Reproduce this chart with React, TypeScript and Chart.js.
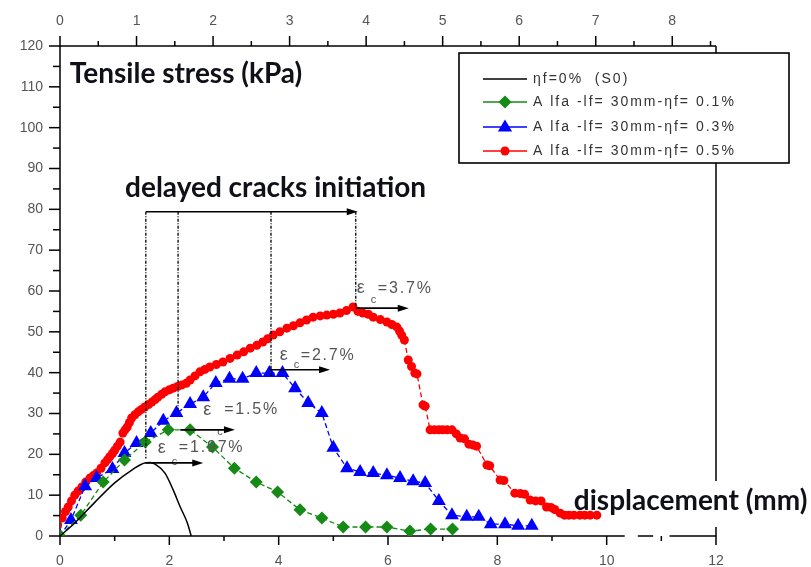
import React, { useEffect, useRef } from 'react';
import { Chart, registerables } from 'chart.js';

Chart.register(...registerables);

// ---- data (displacement mm, tensile stress kPa) ----
const s0X = [0, 0.27, 0.64, 1.0, 1.32, 1.55, 1.65, 1.74, 1.92, 2.07, 2.2, 2.33, 2.4];
const s0Y = [0, 3.2, 8.3, 13.0, 16.2, 17.9, 18.0, 17.6, 15.4, 11.3, 7.1, 3.2, 0];

const g01X = [0, 0.38, 0.79, 1.18, 1.56, 1.98, 2.38, 2.79, 3.19, 3.59, 3.98, 4.39, 4.79, 5.18, 5.59, 5.98, 6.4, 6.78, 7.18];
const g01Y = [0, 5.1, 13.2, 18.6, 23.0, 26.0, 26.0, 21.8, 16.6, 13.2, 10.8, 6.4, 4.4, 2.2, 2.2, 2.2, 1.2, 1.7, 1.7];

const b03X = [0, 0.2, 0.46, 0.67, 0.96, 1.18, 1.4, 1.66, 1.89, 2.13, 2.38, 2.62, 2.85, 3.1, 3.34, 3.59, 3.83, 4.07, 4.3, 4.54, 4.79, 5.0, 5.25, 5.49, 5.73, 5.98, 6.22, 6.46, 6.68, 6.93, 7.17, 7.44, 7.66, 7.88, 8.14, 8.38, 8.63];
const b03Y = [0, 3.9, 12.2, 14.2, 16.4, 20.3, 22.8, 25.2, 28.2, 30.1, 32.3, 34.0, 37.5, 38.5, 38.5, 39.9, 39.9, 39.9, 36.2, 32.6, 30.1, 21.6, 16.6, 15.7, 15.4, 14.9, 14.2, 13.4, 13.0, 8.6, 5.1, 4.7, 4.7, 2.9, 2.9, 2.5, 2.5];

const r05X = [0, 0.04, 0.1, 0.15, 0.21, 0.27, 0.33, 0.4, 0.47, 0.55, 0.61, 0.67, 0.75, 0.82, 0.87, 0.91, 0.96, 1.0, 1.05, 1.1, 1.15, 1.19, 1.23, 1.27, 1.31, 1.37, 1.43, 1.49, 1.55, 1.62, 1.68, 1.74, 1.79, 1.86, 1.92, 2.0, 2.07, 2.15, 2.23, 2.31, 2.38, 2.47, 2.56, 2.65, 2.74, 2.86, 2.98, 3.11, 3.24, 3.36, 3.48, 3.6, 3.71, 3.8, 3.9, 4.02, 4.15, 4.27, 4.39, 4.51, 4.63, 4.76, 4.88, 5.0, 5.12, 5.24, 5.36, 5.45, 5.54, 5.64, 5.73, 5.86, 5.98, 6.07, 6.16, 6.21, 6.25, 6.3, 6.37, 6.43, 6.49, 6.53, 6.64, 6.68, 6.77, 6.85, 6.93, 7.0, 7.08, 7.17, 7.25, 7.32, 7.4, 7.48, 7.55, 7.62, 7.81, 7.86, 8.05, 8.12, 8.32, 8.42, 8.5, 8.6, 8.7, 8.8, 8.9, 8.98, 9.05, 9.15, 9.23, 9.31, 9.4, 9.51, 9.6, 9.7, 9.82];
const r05Y = [0, 4.4, 6.0, 7.1, 8.6, 10.0, 11.0, 12.0, 13.2, 14.2, 14.8, 15.4, 16.6, 17.9, 18.7, 19.4, 20.2, 21.0, 22.0, 23.0, 25.2, 26.0, 26.7, 27.8, 28.9, 29.7, 30.4, 31.0, 31.6, 32.2, 32.8, 33.4, 34.0, 34.7, 35.3, 35.8, 36.2, 36.6, 37.0, 37.4, 38.2, 39.2, 40.2, 40.8, 41.4, 42.0, 42.6, 43.5, 44.3, 45.1, 46.0, 46.7, 47.5, 48.3, 49.2, 50.0, 50.9, 51.5, 52.2, 52.9, 53.6, 53.9, 54.1, 54.3, 54.6, 55.2, 56.1, 55.0, 54.6, 54.3, 53.6, 53.0, 52.4, 51.8, 51.2, 50.2, 49.2, 48.0, 43.1, 41.5, 39.9, 39.7, 32.1, 31.8, 26.0, 26.0, 26.0, 26.0, 26.0, 26.0, 25.0, 24.0, 23.8, 22.5, 22.3, 22.0, 17.4, 17.2, 13.7, 13.6, 10.5, 10.4, 10.2, 8.8, 8.6, 8.6, 7.1, 7.0, 6.5, 5.6, 5.1, 5.1, 5.1, 5.1, 5.1, 5.1, 5.1];

const bottomTicks = [0, 2, 4, 6, 8, 10, 12];
const topTicks = [0, 1, 2, 3, 4, 5, 6, 7, 8];
const yTicks = [0, 10, 20, 30, 40, 50, 60, 70, 80, 90, 100, 110, 120];

const seriesLabels = ['ηf=0%  (S0)', 'A lfa -lf= 30mm-ηf= 0.1%', 'A lfa -lf= 30mm-ηf= 0.3%', 'A lfa -lf= 30mm-ηf= 0.5%'];
const seriesColors = ['#000000', '#158a15', '#0000ff', '#ff0000'];
const seriesPoints = ['none', 'rectRot', 'triangle', 'circle'];

// strain annotations
const strainLabels = ['=3.7%', '=2.7%', '=1.5%', '=1.97%'];
const strainTextX = [5.43, 4.02, 2.62, 1.79];
const strainTextY = [60.7, 44.3, 30.9, 21.6];
const strainArrowX0 = [5.41, 3.84, 2.2, 1.57];
const strainArrowX1 = [6.38, 4.94, 3.2, 2.62];
const strainArrowY = [55.8, 40.7, 26.0, 17.9];
const strainSubDrop = [12, 10, 22, 14];

const crackX = [1.57, 2.16, 3.86, 5.41];
const crackBottomY = [19.0, 30.9, 38.9, 56.3];
const crackTopY = 79.4;

const toPts = (xs: number[], ys: number[]) => xs.map((x, i) => ({ x, y: ys[i] }));

function arrow(ctx: CanvasRenderingContext2D, x0: number, y: number, x1: number) {
  ctx.save();
  ctx.strokeStyle = '#000';
  ctx.fillStyle = '#000';
  ctx.lineWidth = 1.6;
  ctx.setLineDash([]);
  ctx.beginPath();
  ctx.moveTo(x0, y);
  ctx.lineTo(x1 - 6, y);
  ctx.stroke();
  ctx.beginPath();
  ctx.moveTo(x1, y);
  ctx.lineTo(x1 - 11, y - 3.5);
  ctx.lineTo(x1 - 11, y + 3.5);
  ctx.closePath();
  ctx.fill();
  ctx.restore();
}

function marker(ctx: CanvasRenderingContext2D, style: string, x: number, y: number, color: string) {
  ctx.save();
  ctx.fillStyle = color;
  ctx.beginPath();
  if (style === 'rectRot') {
    const r = 6.5;
    ctx.moveTo(x, y - r);
    ctx.lineTo(x + r, y);
    ctx.lineTo(x, y + r);
    ctx.lineTo(x - r, y);
    ctx.closePath();
  } else if (style === 'triangle') {
    const r = 7.5;
    ctx.moveTo(x, y - r);
    ctx.lineTo(x + r * 0.95, y + r * 0.6);
    ctx.lineTo(x - r * 0.95, y + r * 0.6);
    ctx.closePath();
  } else if (style === 'circle') {
    ctx.arc(x, y, 4.5, 0, Math.PI * 2);
  }
  ctx.fill();
  ctx.restore();
}

const framePlugin = {
  id: 'frame',
  beforeDatasetsDraw(chart: any) {
    const ctx: CanvasRenderingContext2D = chart.ctx;
    const { left, right, top, bottom } = chart.chartArea;
    const xs = chart.scales.x;
    const xt = chart.scales.xTop;
    const ys = chart.scales.y;
    ctx.save();
    ctx.strokeStyle = '#000';
    ctx.lineWidth = 1.5;
    ctx.setLineDash([]);
    // left axis
    ctx.beginPath();
    ctx.moveTo(left, top);
    ctx.lineTo(left, bottom);
    ctx.stroke();
    for (let v = 0; v <= 120; v += 5) {
      const py = ys.getPixelForValue(v);
      const len = v % 10 === 0 ? 11 : 7;
      ctx.beginPath();
      ctx.moveTo(left - len, py);
      ctx.lineTo(left, py);
      ctx.stroke();
    }
    // top axis
    ctx.beginPath();
    ctx.moveTo(left, top);
    ctx.lineTo(right, top);
    ctx.stroke();
    for (let v = 0; v <= 8.5; v += 0.5) {
      const px = xt.getPixelForValue(v);
      const len = Number.isInteger(v) ? 10 : 5;
      ctx.beginPath();
      ctx.moveTo(px, top - len);
      ctx.lineTo(px, top);
      ctx.stroke();
    }
    // bottom axis (broken near the end)
    const bx = (v: number) => xs.getPixelForValue(v);
    ctx.beginPath();
    ctx.moveTo(left, bottom);
    ctx.lineTo(bx(10.33), bottom);
    ctx.moveTo(bx(10.57), bottom);
    ctx.lineTo(bx(10.85), bottom);
    ctx.moveTo(bx(11.15), bottom);
    ctx.lineTo(right, bottom);
    ctx.stroke();
    for (let v = 0; v <= 12; v += 1) {
      const px = bx(v);
      const len = v % 2 === 0 ? 9 : 5;
      ctx.beginPath();
      ctx.moveTo(px, bottom);
      ctx.lineTo(px, bottom + len);
      ctx.stroke();
    }
    // right border, interrupted by legend and axis title
    ctx.beginPath();
    ctx.moveTo(right, top);
    ctx.lineTo(right, ys.getPixelForValue(13.5));
    ctx.moveTo(right, ys.getPixelForValue(2.2));
    ctx.lineTo(right, bottom);
    ctx.stroke();
    ctx.restore();
  },
  afterDatasetsDraw(chart: any) {
    const ctx: CanvasRenderingContext2D = chart.ctx;
    const { right, top } = chart.chartArea;
    const xs = chart.scales.x;
    const ys = chart.scales.y;
    const X = (v: number) => xs.getPixelForValue(v);
    const Y = (v: number) => ys.getPixelForValue(v);
    ctx.save();

    // crack initiation dotted lines
    ctx.strokeStyle = '#000';
    ctx.lineWidth = 1.3;
    ctx.setLineDash([3, 1.5, 1, 1.5]);
    crackX.forEach((cx, i) => {
      ctx.beginPath();
      ctx.moveTo(X(cx), Y(crackTopY));
      ctx.lineTo(X(cx), Y(crackBottomY[i]));
      ctx.stroke();
    });
    ctx.setLineDash([]);
    arrow(ctx, X(crackX[0]), Y(crackTopY), X(crackX[3]) + 2);

    // strain labels
    strainLabels.forEach((t, i) => {
      const px = X(strainTextX[i]);
      const py = Y(strainTextY[i]);
      ctx.fillStyle = '#555';
      ctx.textBaseline = 'middle';
      ctx.textAlign = 'left';
      ctx.font = '18px "Liberation Sans", Arial, sans-serif';
      (ctx as any).letterSpacing = '0px';
      ctx.fillText('ε', px, py);
      ctx.font = '11px "Liberation Sans", Arial, sans-serif';
      ctx.fillText('c', px + 14, py + strainSubDrop[i]);
      ctx.font = '16px "Liberation Sans", Arial, sans-serif';
      (ctx as any).letterSpacing = '1.8px';
      ctx.fillText(t, px + 21, py);
      (ctx as any).letterSpacing = '0px';
      arrow(ctx, X(strainArrowX0[i]), Y(strainArrowY[i]), X(strainArrowX1[i]));
    });

    // big titles
    ctx.fillStyle = '#101018';
    ctx.textBaseline = 'alphabetic';
    ctx.font = 'bold 28px Lato, "Open Sans", sans-serif';
    ctx.fillText('Tensile stress (kPa)', X(0.18), Y(110.9));
    ctx.fillText('delayed cracks initiation', X(1.19), Y(83.0));
    ctx.fillText('displacement (mm)', X(9.4), Y(6.4));

    // legend
    const bxL = right - 257;
    const bxT = top + 7;
    const bw = 330;
    const bh = 110;
    ctx.fillStyle = '#fff';
    ctx.fillRect(bxL, bxT, bw, bh);
    ctx.strokeStyle = '#000';
    ctx.lineWidth = 1.6;
    ctx.strokeRect(bxL, bxT, bw, bh);
    const rowY = [26, 49, 74, 98];
    seriesLabels.forEach((lab, i) => {
      const yy = bxT + rowY[i];
      ctx.strokeStyle = seriesColors[i];
      ctx.lineWidth = 1.5;
      ctx.beginPath();
      ctx.moveTo(bxL + 24, yy);
      ctx.lineTo(bxL + 68, yy);
      ctx.stroke();
      marker(ctx, seriesPoints[i], bxL + 46, yy, seriesColors[i]);
      ctx.fillStyle = '#333';
      ctx.font = '14px "Liberation Sans", Arial, sans-serif';
      (ctx as any).letterSpacing = '2px';
      ctx.textBaseline = 'middle';
      ctx.fillText(lab, bxL + 74, yy);
      (ctx as any).letterSpacing = '0px';
    });
    ctx.restore();
  },
};

export default function App() {
  const ref = useRef<HTMLCanvasElement | null>(null);
  useEffect(() => {
    if (!ref.current) return;
    const tickFont = { family: '"Liberation Sans", Arial, sans-serif', size: 14 };
    const chart = new Chart(ref.current, {
      type: 'scatter',
      data: {
        datasets: [
          {
            label: seriesLabels[0],
            data: toPts(s0X, s0Y),
            showLine: true,
            borderColor: seriesColors[0],
            borderWidth: 1.5,
            pointRadius: 0,
            tension: 0.4,
            cubicInterpolationMode: 'monotone',
            order: 0,
          },
          {
            label: seriesLabels[1],
            data: toPts(g01X, g01Y),
            showLine: true,
            borderColor: seriesColors[1],
            backgroundColor: seriesColors[1],
            borderWidth: 1.3,
            borderDash: [5, 3],
            pointStyle: 'rectRot',
            pointRadius: 6.5,
            pointBorderWidth: 0,
            order: 1,
          },
          {
            label: seriesLabels[2],
            data: toPts(b03X, b03Y),
            showLine: true,
            borderColor: seriesColors[2],
            backgroundColor: seriesColors[2],
            borderWidth: 1.3,
            borderDash: [5, 3],
            pointStyle: 'triangle',
            pointRadius: 8,
            pointBorderWidth: 0,
            order: 2,
          },
          {
            label: seriesLabels[3],
            data: toPts(r05X, r05Y),
            showLine: true,
            borderColor: seriesColors[3],
            backgroundColor: seriesColors[3],
            borderWidth: 1.3,
            borderDash: [5, 3],
            pointStyle: 'circle',
            pointRadius: 4.5,
            pointBorderWidth: 0,
            order: 3,
          },
        ],
      },
      options: {
        animation: false,
        responsive: false,
        devicePixelRatio: 1,
        layout: { padding: { left: 0, right: 95, top: 0, bottom: 0 } },
        plugins: { legend: { display: false }, tooltip: { enabled: false } },
        scales: {
          x: {
            type: 'linear',
            position: 'bottom',
            min: 0,
            max: 12,
            grid: { display: false, drawTicks: false },
            border: { display: false },
            ticks: { color: '#555', font: tickFont, padding: 17, maxRotation: 0 },
            afterBuildTicks: (s: any) => { s.ticks = bottomTicks.map((v) => ({ value: v })); },
            afterFit: (s: any) => { s.height = 31; },
          },
          xTop: {
            type: 'linear',
            position: 'top',
            min: 0,
            max: 12 / 1.4,
            grid: { display: false, drawTicks: false },
            border: { display: false },
            ticks: { color: '#555', font: tickFont, padding: 16, maxRotation: 0 },
            afterBuildTicks: (s: any) => { s.ticks = topTicks.map((v) => ({ value: v })); },
            afterFit: (s: any) => { s.height = 46; },
          },
          y: {
            type: 'linear',
            position: 'left',
            min: 0,
            max: 120,
            grid: { display: false, drawTicks: false },
            border: { display: false },
            ticks: { color: '#555', font: tickFont, padding: 17 },
            afterBuildTicks: (s: any) => { s.ticks = yTicks.map((v) => ({ value: v })); },
            afterFit: (s: any) => { s.width = 60; },
          },
        },
      },
      plugins: [framePlugin],
    } as any);
    return () => chart.destroy();
  }, []);
  return (
    <div style={{ position: 'fixed', left: 0, top: 0, width: 811, height: 567, background: '#fff' }}>
      <canvas ref={ref} width={811} height={567} style={{ display: 'block' }} />
    </div>
  );
}
